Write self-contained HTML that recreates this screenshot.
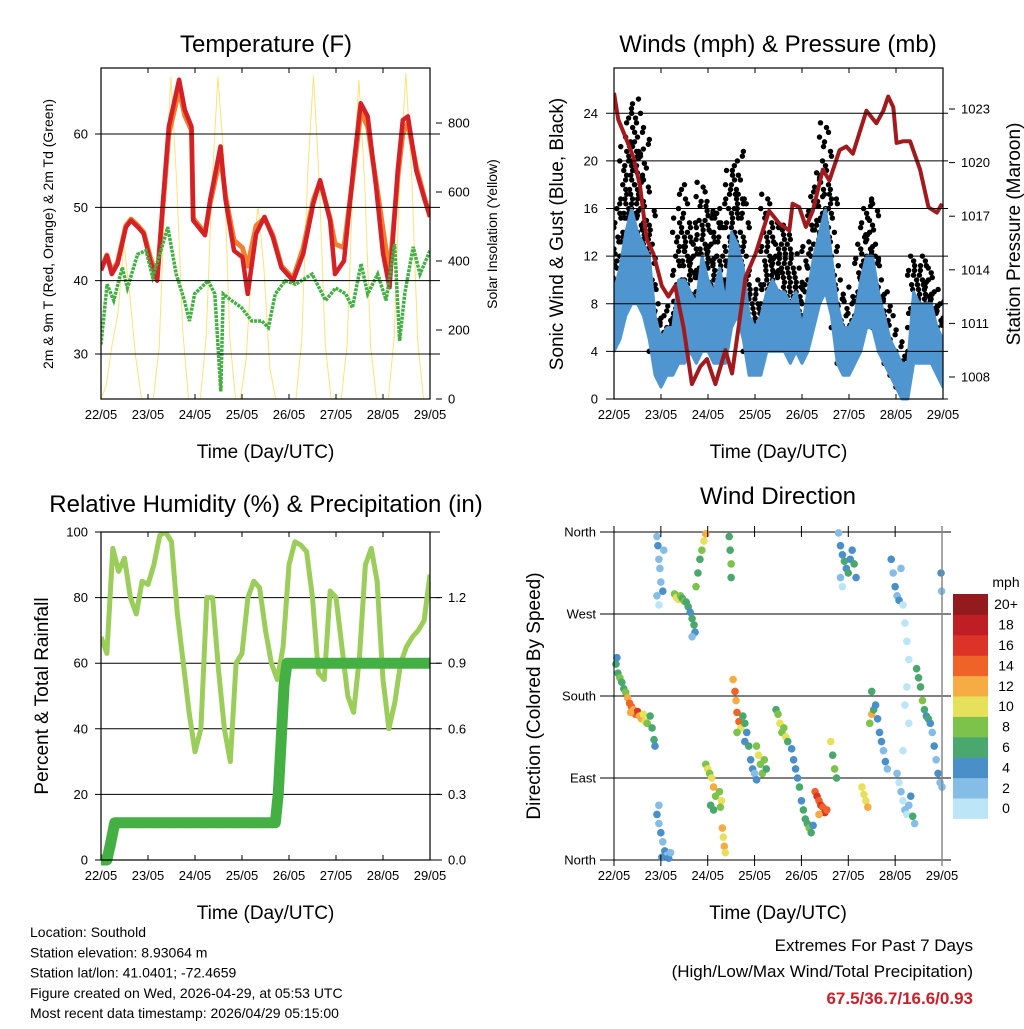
<!DOCTYPE html>
<html><head><meta charset="utf-8"><style>
body{margin:0;background:#fff;}
svg text{font-family:"Liberation Sans",sans-serif;}
</style></head><body>
<svg id="s" width="1024" height="1024" xmlns="http://www.w3.org/2000/svg"></svg>
<script>
// ---------- DATA ----------
const dayLabels=["22/05","23/05","24/05","25/05","26/05","27/05","28/05","29/05"];
const tempHours=[0,3,5.5,8.5,12.7,15.3,18.9,21.8,25.2,28.7,31.3,34.6,39.9,42.8,46.2,47.1,53.1,55.7,61,63.6,67.9,72.2,74.9,79.2,83.5,87.8,92.1,98.1,103.3,108.4,111.9,117,119.5,124.1,129.3,132.6,136.2,140.5,144,147.3,151.5,154.1,156.7,161,165.3,168];
const tempRed=[41.4,43.4,40.9,42.3,47.3,48.2,47.3,46.4,42.7,40,49.6,61,67.4,63.3,61,48.2,46.2,51,58.3,51,44.1,43.2,38.2,46.4,48.7,45.9,41.8,40,43.7,50.5,53.7,48.2,40.9,42.7,56.4,64.2,62.4,52.8,43.7,39.1,55,61.9,62.4,55,51,48.7];
const tempOrange=[41.6,43.5,41.2,42.5,47.5,48.4,47.5,46.6,43.2,40.5,49,60,66,62.5,60.5,48.5,46.5,50.5,57,51.5,45.5,44.5,42,47.5,48.5,46.2,42,40.3,44.5,51,53.5,48.5,45,44.5,55.5,63,61,53.5,47,41,54,60,61.5,55.5,51.2,49];
const dewHours=[0,3.1,6.5,10.9,13.5,18.7,23,26.4,30.6,34.1,38.4,42.6,45.2,47.8,54.7,58.1,61.2,62.4,66.7,71.8,77,82.1,85.5,89,94.1,99.3,107.8,114.7,119.8,125,128.4,132.8,136.2,141.3,145.6,149.9,152.5,155.1,159.4,162.9,168];
const dewPt=[31.3,39.5,37.3,41.8,39,43.6,44.1,40.5,44.1,47.3,40.9,37.3,34.5,38.2,40,38.2,24.9,38.2,37.3,36.3,34.5,34.5,33.6,38.2,40,39.5,40.9,37.3,39,38.2,36.3,42.3,38.2,40.9,37.3,45,31.8,38.2,44.6,40.9,44.1];
const solarHours=[0,2.7,5.7,8.7,11.7,14.7,17.7,20.7,26.7,29.7,32.7,35.7,38.7,41.7,44.7,50.7,53.7,56.7,59.7,62.7,65.7,68.7,71.2,74.2,77.2,80.2,83.2,86.2,89.2,99.5,102.5,105.5,108.5,111.5,114.5,117.5,122.7,125.7,128.7,131.7,134.7,137.7,140.7,146.7,149.7,152.7,155.7,158.7,161.7,164.7,168];
const solarVals=[0,40,160,250,451,300,120,0,0,150,600,934,620,200,0,0,180,620,934,700,180,0,0,120,420,557,380,90,0,0,170,650,939,620,160,0,0,160,640,925,620,150,0,0,180,660,944,640,170,0,0];
const windHours=[0,3,6,9,12,15,18,21,24,27,30,33,36,39,42,45,48,51,54,57,60,63,66,69,72,75,78,81,84,87,90,93,96,99,102,105,108,111,114,117,120,123,126,129,132,135,138,141,144,147,150,153,156,159,162,165,168];
const sustLo=[4,5,7,8,8,7,5,2,1,2,2,3,3,4,3,4,4,3,3,3,6,7,5,2,2,2,4,4,4,4,3,4,3,4,6,8,9,7,3,2,2,3,4,6,6,4,3,2,1,0,0,3,3,3,3,2,1];
const sustHi=[9,11,14,16,14,13,12,7,5,6,6,10,10,9,8,12,10,9,11,8,14,13,11,7,6,7,9,10,9,9,8,9,6,9,12,14,16,12,8,6,6,7,10,12,12,9,7,5,4,3,3,9,8,8,8,6,5];
const gustLo=[7,10,12,14,12,11,9,4,3,4,3,6,8,8,7,9,9,8,6,6,10,10,8,4,4,4,8,8,7,7,7,7,5,8,11,13,14,10,6,3,4,5,7,10,9,6,5,3,2,1,2,6,6,6,5,4,3];
const gustHi=[13,17,21,24,25,22,16,10,7,7,8,15,18,15,13,18,17,16,17,13,19,21,17,10,9,11,17,15,14,15,13,12,9,13,17,19,23,18,11,8,8,9,14,17,17,12,9,7,5,4,4,12,11,12,11,9,8];
const presHours=[0,2.2,5.6,9.9,13.3,16.7,20.1,24.4,27.8,31.2,35.5,39.8,44.1,47.5,51.8,56.9,60.3,67.2,72.3,79.2,84.3,89.5,91.2,94.6,98,101.5,106.6,110,115.2,118.6,122,128.9,134,137.5,140,142.6,144.3,147.8,151.2,156.3,160.6,164.9,167.5];
const pressure=[1023.9,1022.4,1021.5,1020.3,1018.7,1015.7,1014.9,1013.1,1012.5,1013.1,1010.8,1007.6,1008.6,1009,1007.6,1009.5,1008.2,1013.6,1014.9,1017.3,1016.6,1016.2,1017.7,1017.5,1016.4,1017.3,1019.6,1019,1020.7,1020.9,1020.5,1022.9,1022.2,1022.9,1023.7,1023.1,1021.1,1021.2,1021.2,1019.6,1017.5,1017.2,1017.7];
const rhHours=[0,3,6,9,12,15,18,21,24,27,30,33,36,39,42,45,48,51,54,57,60,63,66,69,72,75,78,81,84,87,90,93,96,99,102,105,108,111,114,117,120,123,126,129,132,135,138,141,144,147,150,153,156,159,162,165,168];
const rhVals=[68,63,95,88,92,80,75,85,84,90,99,100,97,75,60,45,33,40,80,80,58,40,30,60,63,80,85,83,70,60,55,65,90,97,96,94,80,57,55,82,80,65,50,45,62,90,95,85,55,40,48,60,65,68,70,73,87];
const precipHours=[0,3,5,7,10,40,80,89,90.5,92,93.5,95,100,130,168];
const precipVals=[0,0,0.08,0.17,0.17,0.17,0.17,0.17,0.3,0.55,0.8,0.9,0.9,0.9,0.9];
const dirPts=[[1,215,7],[2,205,6],[3,200,8],[4,195,7],[5,188,6],[6,184,8],[1.5,222,5],
[7,178,13],[8,172,14],[9,168,15],[10,165,13],[11,160,14],[12,163,16],[13,158,13],[14,155,12],[15,160,11],[16,152,10],[17,150,9],[8.5,162,12],
[18.5,158,7],[19.5,145,6],[20.5,132,7],[21,125,5],
[22,50,4],[23,40,3],[24,30,4],[25,20,3],[26,10,4],[27,5,3],[28,2,4],[29,8,3],[24.5,3,4],[23,60,3],
[22,355,3],[22.5,345,4],[23,330,2],[23.5,320,3],[24,305,2],[25,295,4],[22,290,2],[23,280,1],[25.5,340,3],
[31,292,8],[32,288,10],[33,286,10],[34,290,9],[35,287,7],[36,284,8],[37,283,6],
[38,278,6],[39,272,5],[40,265,6],[41,258,7],[41.5,250,5],[40,245,3],
[42,300,8],[43,315,7],[44,330,6],[45,340,8],[46,350,10],[47,358,12],
[47,105,8],[48,100,10],[49,95,9],[50,90,11],[51,80,12],[52,70,8],[49.5,60,6],[51,55,7],
[54,75,9],[55,65,10],[54.5,58,8],[55.5,35,12],[56,25,11],[56.5,15,12],[57,8,10],
[59,355,6],[59.5,340,7],[60,325,8],[60,310,7],
[61,198,12],[62,185,14],[62.5,175,13],[63,162,15],[64,152,14],[65,145,11],[63,140,9],
[66,158,6],[67,150,7],[68,140,5],[69,125,6],[70,110,4],[71,100,5],[72,95,3],[73,88,4],[67,130,4],
[73,125,9],[74,115,10],[75,105,8],[76,95,9],[77,110,8],[78,100,7],
[83,165,7],[84,160,9],[85,150,10],[86,140,9],[87,145,8],[88,135,10],[89,130,7],
[91,122,4],[92,110,5],[93,100,4],
[94,90,5],[95,80,6],[96,65,5],[97,55,6],[98,45,7],[99,40,6],[100,35,8],[101,30,7],[102,38,5],
[103,75,15],[104,70,16],[105,65,15],[106,60,17],[107,58,14],[108,52,16],[109,55,15],[105,50,13],
[111,130,10],[112,115,7],[113,100,8],[114,90,6],
[115,359,3],[116,345,4],[117,335,5],[118,328,6],[119,320,5],[120,315,6],[121,330,4],[122,340,5],[123,325,6],[124,310,4],[116,310,2],[117,300,1],
[127,80,10],[128,72,11],[129,65,10],[130,58,12],
[131,150,8],[132,160,12],[133,165,6],[134,170,4],[135,155,5],[136,140,4],[137,130,5],[138,120,3],[139,108,4],[140,100,3],[132,185,6],
[142,330,4],[143,315,3],[144,300,4],[145,290,3],[146,285,4],[147,320,3],
[145,95,2],[146,85,1],[147,75,2],[148,65,1],[149,55,2],[150,50,1],[151,60,2],[152,70,5],[153,48,6],[154,40,2],
[148,280,1],[149,260,1],[150,240,1],[151,220,1],[150,190,1],[149,170,1],[151,150,1],[148,120,1],
[155,210,6],[156,200,7],[157,190,6],[158,175,8],[159,165,6],[160,158,5],[161,155,7],
[162,150,4],[163,140,3],[164,125,4],[165,110,3],[166,95,4],[167,85,3],[168,80,2],
[167.5,315,4],[167.8,295,3]];
const speedColors=["#bde5f8","#85bde6","#4a8fc8","#4aa86e","#7dc24a","#e7e05a","#f6ab45","#ef6228","#dc3328","#be1e24","#931b1e"];
const speedLabels=["0","2","4","6","8","10","12","14","16","18","20+"];

// ---------- HELPERS ----------
const S=document.getElementById('s');const NS="http://www.w3.org/2000/svg";
function el(t,a,p){const e=document.createElementNS(NS,t);for(const k in a)e.setAttribute(k,a[k]);(p||S).appendChild(e);return e;}
function txt(x,y,s,size,o){const e=el('text',Object.assign({x:x,y:y,'font-size':size,fill:'#000'},o||{}));e.textContent=s;return e;}
function lin(a,b,c,d){return v=>c+(v-a)*(d-c)/(b-a);}
function poly(xs,ys,fx,fy){return xs.map((h,i)=>fx(h).toFixed(1)+','+fy(ys[i]).toFixed(1)).join(' ');}
function frame(g,x0,x1,y0,y1){
  const r=el('rect',{x:x0,y:y0,width:x1-x0,height:y1-y0,fill:'none',stroke:'#000','stroke-width':1.2},g);
  
  for(let i=0;i<=7;i++){const x=x0+i*(x1-x0)/7;el('line',{x1:x,x2:x,y1:y1,y2:y1-5,stroke:'#000'},g);el('line',{x1:x,x2:x,y1:y0,y2:y0+5,stroke:'#000'},g);
    const t=txt(x,y1+20,dayLabels[i],13,{'text-anchor':'middle'});g.appendChild(t);}
  const xt=txt((x0+x1)/2,y1+59,"Time (Day/UTC)",19,{'text-anchor':'middle'});g.appendChild(xt);
  
}
function hgrid(g,ys,x0,x1,labels,lx,anchor){ys.forEach((y,i)=>{el('line',{x1:x0,x2:x1,y1:y,y2:y,stroke:'#000','stroke-width':1},g);
  if(labels){const t=txt(lx,y+4.5,labels[i],13,{'text-anchor':anchor});g.appendChild(t);}});}
function rlabels(g,vals,fy,lx,fmt){vals.forEach(v=>{const y=fy(v);el('line',{x1:lx-12,x2:lx-6,y1:y,y2:y,stroke:'#000'},g);const t=txt(lx,y+4.5,fmt(v),13,{'text-anchor':'start'});g.appendChild(t);});}
function rot(x,y,s,size,name){const t=txt(x,y,s,size,{'text-anchor':'middle',transform:`rotate(-90 ${x} ${y})`});}
function title(x,y,s,name){const t=txt(x,y,s,24,{'text-anchor':'middle'});}

// ---------- PANEL 1: TEMPERATURE ----------
(function(){const g=el('g',{});
 const x0=101,x1=430,y0=68,y1=399;const fx=lin(0,168,x0,x1);const fy=lin(30,60,354,134);const fs=lin(0,800,399,123);
 title(266,52,"Temperature (F)","temperature-title");
 const cp=el('clipPath',{id:'c1'},g);el('rect',{x:x0,y:y0,width:x1-x0,height:y1-y0},cp);
 const d=el('g',{'clip-path':'url(#c1)'},g);
 hgrid(g,[30,40,50,60].map(fy),95,440,["30","40","50","60"],88,'end');
 const sl=el('polyline',{points:poly(solarHours,solarVals,fx,fs),fill:'none',stroke:'#fbe27a','stroke-width':1},d);
 const o=el('polyline',{points:poly(tempHours,tempOrange,fx,fy),fill:'none',stroke:'#f08030','stroke-width':5,'stroke-linejoin':'round'},d);
 const r=el('polyline',{points:poly(tempHours,tempRed,fx,fy),fill:'none',stroke:'#d42027','stroke-width':4.5,'stroke-linejoin':'round'},d);
 const dp=el('polyline',{points:poly(dewHours,dewPt,fx,fy),fill:'none',stroke:'#44b044','stroke-width':3.5,'stroke-dasharray':'3 1'},d);
 frame(g,x0,x1,y0,y1);
 rlabels(g,[0,200,400,600,800],fs,448,v=>String(v));
 rot(53,234,"2m & 9m T (Red, Orange) & 2m Td (Green)",14,"y-axis-title-left");
 rot(497,234,"Solar Insolation (Yellow)",14,"y-axis-title-right");
})();

// ---------- PANEL 2: WINDS ----------
(function(){const g=el('g',{});
 const x0=614,x1=943,y0=68,y1=399;const fx=lin(0,168,x0,x1);const fy=lin(0,24,399,113.3);const fp=lin(1008,1023,377,109);
 title(778,52,"Winds (mph) & Pressure (mb)","winds-title");
 const cp=el('clipPath',{id:'c2'},g);el('rect',{x:x0,y:y0-2,width:x1-x0,height:y1-y0+4},cp);
 const d=el('g',{'clip-path':'url(#c2)'},g);
 hgrid(g,[0,4,8,12,16,20,24].map(fy),606,948,["0","4","8","12","16","20","24"],598,'end');
 const offs=[-6,1,-3,5,-1,3,-5,0,6,-2];
 windHours.forEach((h,i)=>{let n=0;for(let v=gustLo[i];v<=gustHi[i];v+=0.8){const c=el('circle',{cx:fx(h)+offs[n%10],cy:fy(v),r:2.7,fill:'#000'},d);
   const c2=el('circle',{cx:fx(h)+offs[(n+5)%10],cy:fy(v+0.4),r:2.7,fill:'#000'},d);n++;}});
 const band=windHours.map((h,i)=>fx(h).toFixed(1)+','+fy(sustHi[i]).toFixed(1)).concat(windHours.slice().reverse().map((h,j)=>{const i=windHours.length-1-j;return fx(h).toFixed(1)+','+fy(sustLo[i]).toFixed(1);})).join(' ');
 const b=el('polygon',{points:band,fill:'#4f96d0',stroke:'#4f96d0','stroke-width':3,'stroke-linejoin':'round'},d);
 const p=el('polyline',{points:poly(presHours,pressure,fx,fp),fill:'none',stroke:'#a01a1e','stroke-width':4,'stroke-linejoin':'round'},d);
 frame(g,x0,x1,y0,y1);
 rlabels(g,[1008,1011,1014,1017,1020,1023],fp,961,v=>String(v));
 rot(563,234,"Sonic Wind & Gust (Blue, Black)",19,"y-axis-title-left");
 rot(1020,234,"Station Pressure (Maroon)",19,"y-axis-title-right");
})();

// ---------- PANEL 3: RH & PRECIP ----------
(function(){const g=el('g',{});
 const x0=101,x1=430,y0=532,y1=860;const fx=lin(0,168,x0,x1);const fy=lin(0,100,860,532);const fr=lin(0,1.5,860,532);
 title(266,512,"Relative Humidity (%) & Precipitation (in)","humidity-title");
 hgrid(g,[0,20,40,60,80,100].map(fy),95,440,["0","20","40","60","80","100"],88,'end');
 const cp=el('clipPath',{id:'c3'},g);el('rect',{x:x0,y:y0,width:x1-x0,height:y1-y0+6},cp);
 const d=el('g',{'clip-path':'url(#c3)'},g);
 const r=el('polyline',{points:poly(rhHours,rhVals,fx,fy),fill:'none',stroke:'#9acd5a','stroke-width':5,'stroke-linejoin':'round'},d);
 const p=el('polyline',{points:poly(precipHours,precipVals,fx,fr),fill:'none',stroke:'#44b044','stroke-width':11,'stroke-linejoin':'round'},d);
 frame(g,x0,x1,y0,y1);
 rlabels(g,[0,0.3,0.6,0.9,1.2],fr,448,v=>v.toFixed(1));
 rot(48,696,"Percent & Total Rainfall",19,"y-axis-title-left");
})();

// ---------- PANEL 4: WIND DIRECTION ----------
(function(){const g=el('g',{});
 const x0=614,x1=942,y0=532,y1=860;const fx=lin(0,168,x0,x1);const fy=lin(0,360,860,532);
 title(778,504,"Wind Direction","wind-direction-title");
 hgrid(g,[0,90,180,270,360].map(fy),600,951,["North","East","South","West","North"],596,'end');
 dirPts.forEach(p=>{const c=el('circle',{cx:fx(p[0]),cy:fy(p[1]),r:3.8,fill:speedColors[Math.min(10,Math.floor(p[2]/2))]},g);});
 for(let i=0;i<=7;i++){const x=x0+i*(x1-x0)/7;el('line',{x1:x,x2:x,y1:y1+6,y2:y1-5,stroke:'#000'},g);el('line',{x1:x,x2:x,y1:y0-6,y2:y0+5,stroke:'#000'},g);
   const t=txt(x,y1+20,dayLabels[i],13,{'text-anchor':'middle'});g.appendChild(t);}
 el('line',{x1:x0,x2:x0,y1:y0,y2:y1,stroke:'#000'},g);el('line',{x1:x1,x2:x1,y1:y0-6,y2:y1+6,stroke:'#888','stroke-width':1.5},g);
 const xt=txt(778,919,"Time (Day/UTC)",19,{'text-anchor':'middle'});
 rot(540,696,"Direction (Colored By Speed)",19,"y-axis-title-left");
 const lg=el('g',{});
 const h=20.4;
 speedColors.forEach((c,i)=>{const y=594+(10-i)*h;const r=el('rect',{x:953,y:y,width:35,height:h+0.5,fill:c},lg);
   const t=txt(1006,y+h/2+5,speedLabels[i],14,{'text-anchor':'middle'});lg.appendChild(t);});
 const u=txt(1006,587,"mph",14,{'text-anchor':'middle'});
})();

// ---------- FOOTER ----------
["Location: Southold","Station elevation: 8.93064 m","Station lat/lon: 41.0401; -72.4659","Figure created on Wed, 2026-04-29, at 05:53 UTC","Most recent data timestamp: 2026/04/29 05:15:00"].forEach((s,i)=>{const t=txt(30,937+i*20.3,s,14);});
const e1=txt(973,951,"Extremes For Past 7 Days",17,{'text-anchor':'end'});
const e2=txt(973,977,"(High/Low/Max Wind/Total Precipitation)",17,{'text-anchor':'end'});
const e3=txt(973,1004,"67.5/36.7/16.6/0.93",17,{'text-anchor':'end','font-weight':'bold',fill:'#c8202a'});
</script>
</body></html>
